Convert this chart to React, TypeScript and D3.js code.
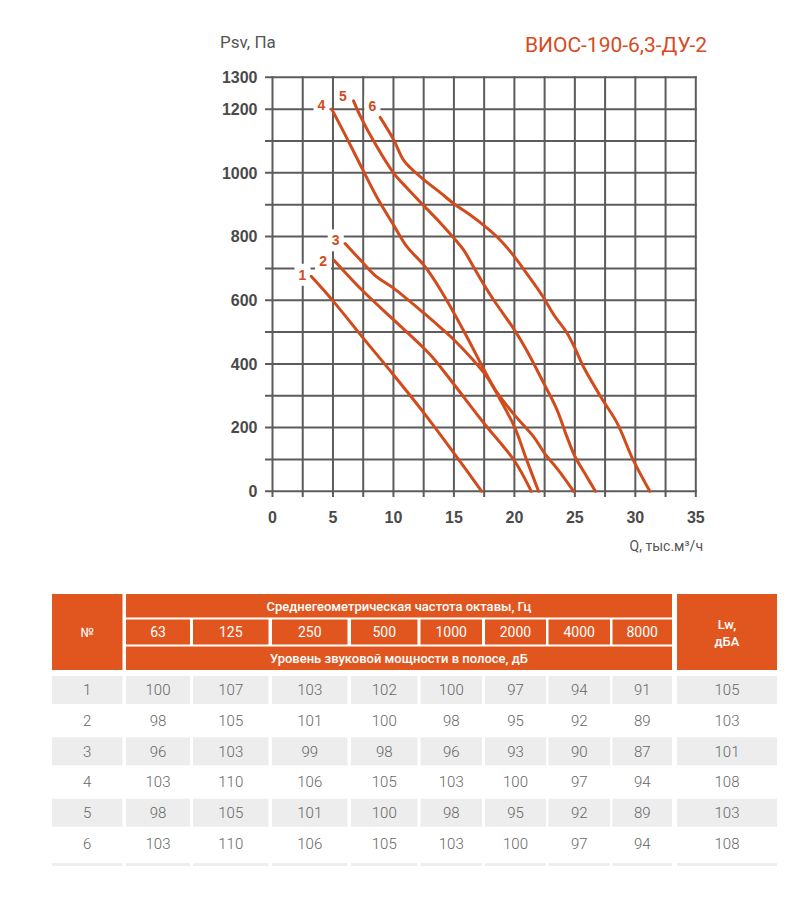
import * as d3 from "d3";

// curve data: [Q, тыс.м³/ч ; Psv, Па]
const curve1: [number, number][] = [[3.2, 675], [5, 598], [7.5, 481], [10, 366], [12.5, 247], [15, 120], [17.3, 0]];
const curve2: [number, number][] = [[5.1, 725], [7.5, 628], [10, 539], [12.5, 450], [13.3, 418], [15, 336], [17.5, 213], [20, 96], [21.4, 0]];
const curve3: [number, number][] = [[6, 778], [7.25, 727], [8.6, 674], [10, 638], [12.5, 560], [14.1, 507], [15, 476], [17.5, 371], [18.6, 308], [20, 240], [21.6, 171], [22.5, 119], [23.6, 68], [24.9, 0]];
const curve4: [number, number][] = [[4.9, 1200], [6.2, 1105], [7.25, 1026], [8.6, 926], [10, 837], [11.1, 769], [12.5, 711], [13.2, 674], [13.9, 632], [15, 560], [16.2, 476], [17.5, 381], [18.7, 297], [20, 203], [21, 100], [22, 0]];
const curve5: [number, number][] = [[6.7, 1226], [7.25, 1179], [8.6, 1084], [10, 1000], [11.1, 953], [12.5, 897], [13.9, 842], [15, 795], [15.8, 758], [16.6, 706], [17.5, 648], [18.3, 600], [20, 507], [21, 444], [22.5, 334], [23.5, 258], [24.35, 171], [25, 110], [26, 45], [26.7, 0]];
const curve6: [number, number][] = [[8.9, 1174], [10, 1105], [10.8, 1042], [11.4, 1016], [12.5, 979], [13.9, 937], [15, 903], [16.3, 869], [17.5, 834], [18.8, 790], [20, 737], [21, 685], [22.3, 615], [23.3, 552], [24.3, 500], [25, 450], [25.7, 392], [27.2, 293], [28.5, 214], [29.8, 100], [31.2, 0]];
const curves = [curve1, curve2, curve3, curve4, curve5, curve6];
const curveNames = ["1", "2", "3", "4", "5", "6"];
// label anchors in data units
const labelQ = [2.48, 4.18, 5.23, 4.05, 5.83, 8.26];
const labelP = [680, 722, 788, 1213, 1241, 1209];

const xTicks = [0, 5, 10, 15, 20, 25, 30, 35];
const yTicks = [0, 200, 400, 600, 800, 1000, 1200, 1300];

// table data
const freqs = ["63", "125", "250", "500", "1000", "2000", "4000", "8000"];
const rowNums = ["1", "2", "3", "4", "5", "6"];
const bandLevels = [
  [100, 107, 103, 102, 100, 97, 94, 91],
  [98, 105, 101, 100, 98, 95, 92, 89],
  [96, 103, 99, 98, 96, 93, 90, 87],
  [103, 110, 106, 105, 103, 100, 97, 94],
  [98, 105, 101, 100, 98, 95, 92, 89],
  [103, 110, 106, 105, 103, 100, 97, 94],
];
const lwTotal = [105, 103, 101, 108, 103, 108];

const ORANGE = "#e1561f";
const CURVE = "#d14b1c";
const GRID = "#5c5c5c";
const TICK = "#4a4a4a";

// table column edges (x0, x1)
const COLS: [number, number][] = [
  [52, 122.5], [126, 190], [193, 268.5], [272, 347.5], [351, 417.5],
  [420.5, 482], [485, 546], [548.5, 610], [612.5, 672], [677, 777],
];

export default function App() {
  const x = d3.scaleLinear().domain([0, 35]).range([272.5, 695.8]);
  const y = d3.scaleLinear().domain([0, 1300]).range([491.3, 77.3]);

  const line = d3
    .line<[number, number]>()
    .x((d) => x(d[0]))
    .y((d) => y(d[1]))
    .curve(d3.curveCatmullRom.alpha(0.5));

  const vGrid = d3.range(0, 35.01, 2.5);
  const hGrid = d3.range(0, 1301, 100);

  const rowY0 = 676;
  const rowH = 30.67;

  return (
    <div style={{ position: "absolute", left: 0, top: 0 }}>
      <svg width={810} height={916} style={{ display: "block", background: "#fff" }}>
        {/* title & axis titles */}
        <text x={220} y={48} fontFamily="'Liberation Sans Narrow', 'Roboto', sans-serif" fontSize={17} fill="#555">
          Psv, Па
        </text>
        <text x={707} y={52} textAnchor="end" fontFamily="Roboto, sans-serif" fontSize={21} fill="#d84a1f">
          ВИОС-190-6,3-ДУ-2
        </text>
        <text x={703} y={551} textAnchor="end" fontFamily="'Liberation Sans Narrow', 'Roboto', sans-serif" fontSize={14} fill="#555">
          Q, тыс.м³/ч
        </text>

        {/* grid */}
        <g stroke={GRID} strokeWidth={2}>
          {hGrid.map((v) => (
            <line key={"h" + v} x1={265} x2={x(35) + 1} y1={y(v)} y2={y(v)} />
          ))}
          {vGrid.map((v) => (
            <line key={"v" + v} x1={x(v)} x2={x(v)} y1={y(1300) - 1} y2={497} />
          ))}
        </g>

        {/* axis labels */}
        <g fontFamily="'Liberation Sans', Arial, sans-serif" fontWeight="bold" fontSize={16} fill={TICK}>
          {yTicks.map((v) => (
            <text key={"yt" + v} x={257.5} y={y(v)} dy="0.36em" textAnchor="end">
              {v}
            </text>
          ))}
          {xTicks.map((v) => (
            <text key={"xt" + v} x={x(v)} y={517} dy="0.36em" textAnchor="middle">
              {v}
            </text>
          ))}
        </g>

        {/* label backgrounds */}
        {curveNames.map((n, i) => (
          <rect key={"lb" + n} x={x(labelQ[i]) - 8} y={y(labelP[i]) - 11} width={16} height={22} fill="#fff" />
        ))}

        {/* curves */}
        {curves.map((c, i) => (
          <path key={"c" + i} d={line(c) ?? ""} fill="none" stroke={CURVE} strokeWidth={3} strokeLinecap="round" strokeLinejoin="round" />
        ))}

        {curveNames.map((n, i) => (
          <text
            key={"lt" + n}
            x={x(labelQ[i])}
            y={y(labelP[i])}
            dy="0.36em"
            textAnchor="middle"
            fontFamily="'Liberation Sans', Arial, sans-serif"
            fontWeight="bold"
            fontSize={14}
            fill={CURVE}
          >
            {n}
          </text>
        ))}

        {/* table header */}
        <g fontFamily="Roboto, sans-serif" fill="#fff">
          <rect x={COLS[0][0]} y={594} width={COLS[0][1] - COLS[0][0]} height={76} fill={ORANGE} />
          <text x={(COLS[0][0] + COLS[0][1]) / 2} y={632} dy="0.36em" textAnchor="middle" fontSize={13}>
            №
          </text>
          <rect x={126} y={594} width={546} height={23.5} fill={ORANGE} />
          <text x={399} y={606} dy="0.36em" textAnchor="middle" fontSize={13} fontWeight={500}>
            Среднегеометрическая частота октавы, Гц
          </text>
          {freqs.map((f, i) => {
            const [a, b] = COLS[i + 1];
            return (
              <g key={"f" + f}>
                <rect x={a} y={619.5} width={b - a} height={25} fill={ORANGE} />
                <text x={(a + b) / 2} y={632} dy="0.36em" textAnchor="middle" fontSize={14}>
                  {f}
                </text>
              </g>
            );
          })}
          <rect x={126} y={646.5} width={546} height={23.5} fill={ORANGE} />
          <text x={399} y={658} dy="0.36em" textAnchor="middle" fontSize={13} fontWeight={500}>
            Уровень звуковой мощности в полосе, дБ
          </text>
          <rect x={COLS[9][0]} y={594} width={COLS[9][1] - COLS[9][0]} height={76} fill={ORANGE} />
          <text x={(COLS[9][0] + COLS[9][1]) / 2} y={624} dy="0.36em" textAnchor="middle" fontSize={13} fontWeight={500}>
            Lw,
          </text>
          <text x={(COLS[9][0] + COLS[9][1]) / 2} y={641} dy="0.36em" textAnchor="middle" fontSize={13} fontWeight={500}>
            дБА
          </text>
        </g>

        {/* table body */}
        <g fontFamily="Roboto, sans-serif" fontWeight={300} fontSize={15} fill="#666">
          {rowNums.map((r, ri) => {
            const top = rowY0 + ri * rowH;
            const cells = [r, ...bandLevels[ri].map(String), String(lwTotal[ri])];
            return (
              <g key={"r" + r}>
                {ri % 2 === 0 &&
                  COLS.map(([a, b], ci) => (
                    <rect key={"bg" + ci} x={a} y={top} width={b - a} height={28} fill="#ededed" />
                  ))}
                {cells.map((v, ci) => (
                  <text key={"t" + ci} x={(COLS[ci][0] + COLS[ci][1]) / 2} y={top + 14} dy="0.36em" textAnchor="middle">
                    {v}
                  </text>
                ))}
              </g>
            );
          })}
          {COLS.map(([a, b], ci) => (
            <rect key={"bot" + ci} x={a} y={863} width={b - a} height={3} fill="#eeeeee" />
          ))}
        </g>
      </svg>
    </div>
  );
}
